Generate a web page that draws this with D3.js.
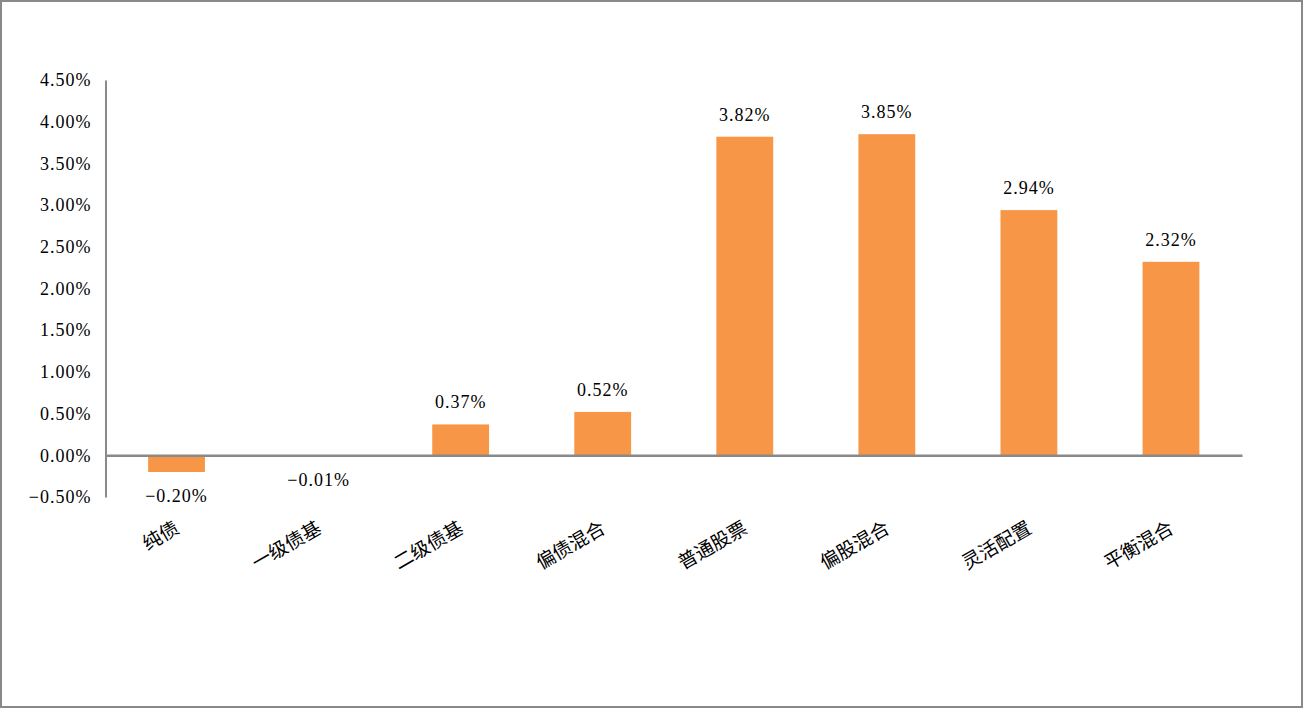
<!DOCTYPE html>
<html>
<head>
<meta charset="utf-8">
<script src="https://cdn.jsdelivr.net/npm/d3@7"></script>
<style>
  html, body { margin: 0; padding: 0; background: #fff; }
  svg { display: block; }
</style>
</head>
<body>
<svg id="chart" width="1303" height="708"></svg>
<script>
const categories = ["纯债", "一级债基", "二级债基", "偏债混合", "普通股票", "偏股混合", "灵活配置", "平衡混合"];
const values = [-0.20, -0.01, 0.37, 0.52, 3.82, 3.85, 2.94, 2.32];
const yTicks = [-0.5, 0, 0.5, 1.0, 1.5, 2.0, 2.5, 3.0, 3.5, 4.0, 4.5];

const W = 1303, H = 708;
const svg = d3.select("#chart");
const numFont = "'Liberation Serif', 'DejaVu Serif', serif";
const cjkFont = "'Noto Sans CJK SC', sans-serif";

// outer border
svg.append("rect")
  .attr("x", 1).attr("y", 1).attr("width", W - 2).attr("height", H - 2)
  .attr("fill", "#fff").attr("stroke", "#898989").attr("stroke-width", 2);

const plotLeft = 105.5, plotRight = 1242, plotTop = 80, plotBottom = 497;

const x = d3.scaleBand().domain(categories).range([plotLeft, plotRight]).paddingInner(0.6).paddingOuter(0.3);
const y = d3.scaleLinear().domain([-0.5, 4.5]).range([plotBottom, plotTop]);
const fmt = d3.format(".2f");

// bars
svg.append("g").selectAll("rect")
  .data(values)
  .join("rect")
  .attr("x", (d, i) => x(categories[i]))
  .attr("width", x.bandwidth())
  .attr("y", d => y(Math.max(0, d)))
  .attr("height", d => Math.abs(y(d) - y(0)))
  .attr("fill", "#F79646");

// y axis
const yAxis = d3.axisLeft(y).tickValues(yTicks).tickSize(0).tickPadding(14)
  .tickFormat(d => fmt(d) + "%");
const gy = svg.append("g").attr("transform", `translate(${plotLeft},0)`).call(yAxis);
gy.select(".domain").attr("stroke", "#898989").attr("stroke-width", 2);
gy.selectAll("text")
  .attr("font-family", numFont).attr("font-size", 18).attr("fill", "#000")
  .attr("letter-spacing", 1);

// x axis line at zero
const xAxis = d3.axisBottom(x).tickSize(0).tickFormat("");
const gx = svg.append("g").attr("transform", `translate(0,${y(0)})`).call(xAxis);
gx.select(".domain").attr("stroke", "#898989").attr("stroke-width", 2.5);

// category labels (rotated)
svg.append("g").selectAll("text")
  .data(categories)
  .join("text")
  .attr("transform", d => `translate(${x(d) + x.bandwidth() / 2 + 4},532) rotate(-30)`)
  .attr("text-anchor", "end")
  .attr("font-family", cjkFont).attr("font-size", 19).attr("fill", "#000")
  .text(d => d);

// value labels
svg.append("g").selectAll("text")
  .data(values)
  .join("text")
  .attr("x", (d, i) => x(categories[i]) + x.bandwidth() / 2)
  .attr("y", d => d >= 0 ? y(d) - 16 : y(d) + 30)
  .attr("text-anchor", "middle")
  .attr("font-family", numFont).attr("font-size", 18).attr("fill", "#000")
  .attr("letter-spacing", 1)
  .text(d => fmt(d) + "%");
</script>
</body>
</html>
